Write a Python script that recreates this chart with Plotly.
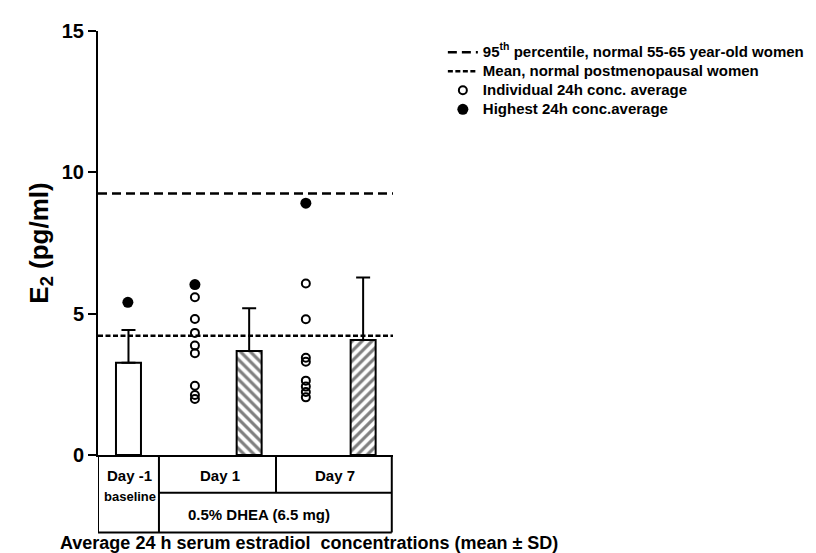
import plotly.graph_objects as go

# ---- data ----
groups = ["Day -1", "Day 1", "Day 7"]
mean_e2 = [3.26, 3.68, 4.07]
sd_e2 = [1.16, 1.51, 2.21]
day1_individual = [5.58, 4.81, 4.32, 3.87, 3.60, 2.45, 2.12, 1.98]
day7_individual = [6.07, 4.80, 3.44, 3.30, 2.63, 2.42, 2.23, 2.04]
highest = [5.40, 6.03, 8.91]
p95_normal = 9.25
mean_postmeno = 4.22
yticks = [0, 5, 10, 15]

# ---- layout positions (x units) ----
X_MAX = 4.84
bar_x = [0.50, 2.48, 4.35]
dot_x = [0.49, 1.59, 3.41]
cell_edges = [0, 1.0, 2.92, 4.82]

BLACK = "black"
FONT = "Arial, Liberation Sans, sans-serif"


def leg(txt):
    return '<span style="font-size:15px">' + txt + '</span>'


fig = go.Figure()

fig.add_trace(go.Bar(
    x=bar_x, y=mean_e2, width=0.41,
    marker=dict(color="white", line=dict(color=BLACK, width=2),
                pattern=dict(shape=["", "\\", "/"], fgcolor=BLACK, bgcolor="white",
                             size=7, solidity=0.45)),
    error_y=dict(type="data", symmetric=False, array=sd_e2, arrayminus=[0, 0, 0],
                 color=BLACK, thickness=2, width=7),
    showlegend=False, hoverinfo="skip"))

fig.add_trace(go.Scatter(
    x=[0, X_MAX], y=[p95_normal, p95_normal], mode="lines",
    line=dict(color=BLACK, width=2.5, dash="9px,5px"),
    name=leg("95<sup>th</sup> percentile, normal 55-65 year-old women")))
fig.add_trace(go.Scatter(
    x=[0, X_MAX], y=[mean_postmeno, mean_postmeno], mode="lines",
    line=dict(color=BLACK, width=2.5, dash="5px,2.5px"),
    name=leg("Mean, normal postmenopausal women")))

ind_x = [dot_x[1]] * len(day1_individual) + [dot_x[2]] * len(day7_individual)
ind_y = day1_individual + day7_individual
fig.add_trace(go.Scatter(
    x=ind_x, y=ind_y, mode="markers",
    marker=dict(symbol="circle-open", size=8, color=BLACK, line=dict(width=2, color=BLACK)),
    name=leg("Individual 24h conc. average")))
fig.add_trace(go.Scatter(
    x=dot_x, y=highest, mode="markers",
    marker=dict(symbol="circle", size=11, color=BLACK),
    name=leg("Highest 24h conc.average")))

# ---- table below axis ----
Y_MID = -0.089
Y_BOT = -0.1827
line = dict(color=BLACK, width=2)
shapes = [
    dict(type="line", xref="x", yref="paper", x0=cell_edges[0], x1=cell_edges[0], y0=0, y1=Y_BOT, line=line),
    dict(type="line", xref="x", yref="paper", x0=cell_edges[1], x1=cell_edges[1], y0=0, y1=Y_BOT, line=line),
    dict(type="line", xref="x", yref="paper", x0=cell_edges[2], x1=cell_edges[2], y0=0, y1=Y_MID, line=line),
    dict(type="line", xref="x", yref="paper", x0=cell_edges[3], x1=cell_edges[3], y0=0, y1=Y_BOT, line=line),
    dict(type="line", xref="x", yref="paper", x0=cell_edges[1], x1=cell_edges[3], y0=Y_MID, y1=Y_MID, line=line),
    dict(type="line", xref="x", yref="paper", x0=cell_edges[0], x1=cell_edges[3], y0=Y_BOT, y1=Y_BOT, line=line),
]

bold15 = dict(family=FONT, size=15, color=BLACK, weight="bold")
annotations = [
    dict(text="Day -1", x=0.51, y=-0.049, font=bold15),
    dict(text="baseline", x=0.52, y=-0.097, font=dict(family=FONT, size=13, color=BLACK, weight="bold")),
    dict(text="Day 1", x=2.0, y=-0.049, font=bold15),
    dict(text="Day 7", x=3.89, y=-0.049, font=bold15),
    dict(text="0.5% DHEA (6.5 mg)", x=2.64, y=-0.1405, font=bold15),
]
for a in annotations:
    a.update(xref="x", yref="paper", showarrow=False, xanchor="center", yanchor="middle")
annotations.append(dict(
    text="Average 24 h serum estradiol  concentrations (mean ± SD)",
    xref="paper", yref="paper", x=0.715, y=-0.2084, showarrow=False,
    xanchor="center", yanchor="middle",
    font=dict(family=FONT, size=18, color=BLACK, weight="bold")))

fig.update_layout(
    width=816, height=553,
    margin=dict(l=90, r=431, t=20, b=106),
    paper_bgcolor="white", plot_bgcolor="white",
    barmode="overlay",
    shapes=shapes, annotations=annotations,
    font=dict(family=FONT, color=BLACK),
    legend=dict(x=1.169, y=0.984, xanchor="left", yanchor="top",
                bgcolor="rgba(0,0,0,0)", font=dict(family=FONT, size=11.3, color=BLACK, weight="bold"),
                itemwidth=30, tracegroupgap=0),
    xaxis=dict(range=[0, X_MAX], showline=True, linecolor=BLACK, linewidth=2,
               showgrid=False, zeroline=False, showticklabels=False, ticks=""),
    yaxis=dict(range=[0, 15], tickvals=yticks, showline=True, linecolor=BLACK, linewidth=2,
               ticks="outside", ticklen=8, tickwidth=2, tickcolor=BLACK,
               showgrid=False, zeroline=False,
               tickfont=dict(family=FONT, size=20, color=BLACK, weight="bold"),
               title=dict(text="E<sub>2</sub> (pg/ml)", standoff=6,
                          font=dict(family=FONT, size=26, color=BLACK, weight="bold"))),
)

fig.write_html("out.html")
